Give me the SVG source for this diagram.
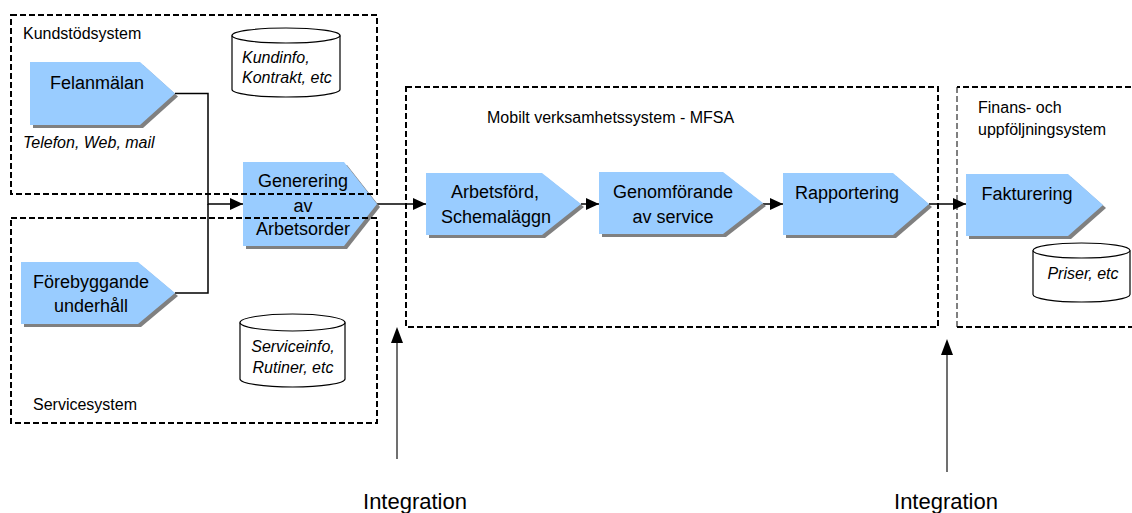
<svg xmlns="http://www.w3.org/2000/svg" width="1132" height="513" viewBox="0 0 1132 513">
<defs>
<style>
.node{fill:#99ccff}
.shadow{fill:#808080}
.box{fill:none;stroke:#000;stroke-width:2;stroke-dasharray:6 3}
.thin{fill:none;stroke:#000;stroke-width:1;stroke-dasharray:6 3}
.conn{fill:none;stroke:#000;stroke-width:1.5}
.int{fill:none;stroke:#707070;stroke-width:2}
.db{fill:#fff;stroke:#000;stroke-width:1.2}
text{font-family:"Liberation Sans",Arial,sans-serif;fill:#000}
.nt{font-size:18px;text-anchor:middle}
.lb{font-size:16px}
.it{font-size:16px;font-style:italic}
.ig{font-size:22px;text-anchor:middle}
</style>
<marker id="arr" markerUnits="userSpaceOnUse" markerWidth="13" markerHeight="12" refX="13" refY="6" orient="auto">
<path d="M0,0 L13,6 L0,12 Z" fill="#000"/>
</marker>
</defs>
<rect width="1132" height="513" fill="#fff"/>

<g id="db-kundinfo">
<path class="db" d="M232,35.5 V89.5 A54,7.5 0 0 0 340,89.5 V35.5"/>
<ellipse class="db" cx="286" cy="35.5" rx="54" ry="7.5"/>
<text class="it" x="242" y="63">Kundinfo,</text>
<text class="it" x="242" y="83">Kontrakt, etc</text>
</g>
<g id="db-serviceinfo">
<path class="db" d="M240,322.5 V379 A52.5,8 0 0 0 345,379 V322.5"/>
<ellipse class="db" cx="292.5" cy="322.5" rx="52.5" ry="8.5"/>
<text class="it" x="293" y="352" text-anchor="middle">Serviceinfo,</text>
<text class="it" x="293" y="373" text-anchor="middle">Rutiner, etc</text>
</g>
<g id="db-priser">
<path class="db" d="M1033,250.5 V294.5 A48.5,7.5 0 0 0 1130,294.5 V250.5"/>
<ellipse class="db" cx="1081.5" cy="250.5" rx="48.5" ry="7.5"/>
<text class="it" x="1083" y="279" text-anchor="middle">Priser, etc</text>
</g>

<g id="connectors">
<path class="conn" d="M175,93.5 H208 V204 H243" marker-end="url(#arr)"/>
<path class="conn" d="M175,293 H208 V204"/>
<path class="conn" d="M377,204 H426" marker-end="url(#arr)"/>
<path class="conn" d="M581,204 H599" marker-end="url(#arr)"/>
<path class="conn" d="M763,204 H783" marker-end="url(#arr)"/>
<path class="conn" d="M929,204 H966" marker-end="url(#arr)"/>
<path class="int" d="M397,459 V342"/>
<path d="M397,327 L403,343 L391,343 Z" fill="#000"/>
<path class="int" d="M947,472 V354"/>
<path d="M947,339 L953,355 L941,355 Z" fill="#000"/>
</g>

<g id="felanmalan">
<path class="shadow" d="M33,65 H143 L178,96.5 L143,128 H33 Z"/>
<path class="node" d="M30,62 H140 L175,93.5 L140,125 H30 Z"/>
<text class="nt" x="97" y="89">Felanmälan</text>
</g>
<g id="forebyggande">
<path class="shadow" d="M24,265 H141 L178,296 L141,327 H24 Z"/>
<path class="node" d="M21,262 H138 L175,293 L138,324 H21 Z"/>
<text class="nt" x="91" y="288">Förebyggande</text>
<text class="nt" x="91" y="312">underhåll</text>
</g>
<g id="generering">
<path class="shadow" d="M246,165 H347 L380,207 L347,249 H246 Z"/>
<path class="node" d="M243,162 H344 L377,204 L344,246 H243 Z"/>
<text class="nt" x="303" y="187">Generering</text>
<text class="nt" x="303" y="212">av</text>
<text class="nt" x="303" y="235">Arbetsorder</text>
</g>
<g id="arbetsford">
<path class="shadow" d="M429,176 H545 L584,207 L545,238 H429 Z"/>
<path class="node" d="M426,173 H542 L581,204 L542,235 H426 Z"/>
<text class="nt" x="495" y="198">Arbetsförd,</text>
<text class="nt" x="496" y="223">Schemaläggn</text>
</g>
<g id="genomforande">
<path class="shadow" d="M602,175 H726 L766,206 L726,237 H602 Z"/>
<path class="node" d="M599,172 H723 L763,203 L723,234 H599 Z"/>
<text class="nt" x="673" y="198">Genomförande</text>
<text class="nt" x="673" y="223">av service</text>
</g>
<g id="rapportering">
<path class="shadow" d="M786,176 H896 L932,207 L896,238 H786 Z"/>
<path class="node" d="M783,173 H893 L929,204 L893,235 H783 Z"/>
<text class="nt" x="847" y="199">Rapportering</text>
</g>
<g id="fakturering">
<path class="shadow" d="M969,177 H1071 L1106,208 L1071,239 H969 Z"/>
<path class="node" d="M966,174 H1068 L1103,205 L1068,236 H966 Z"/>
<text class="nt" x="1027" y="200">Fakturering</text>
</g>

<g id="kundstodsystem">
<rect class="box" x="11" y="15" width="366" height="179"/>
<text class="lb" x="23" y="39">Kundstödsystem</text>
<text class="it" x="23" y="148">Telefon, Web, mail</text>
</g>
<g id="servicesystem">
<rect class="box" x="11" y="218" width="366" height="205"/>
<text class="lb" x="33" y="410">Servicesystem</text>
</g>
<g id="mfsa">
<rect class="box" x="406" y="87" width="532" height="240"/>
<text class="lb" x="487" y="123">Mobilt verksamhetssystem - MFSA</text>
</g>
<g id="finans">
<path class="box" d="M1140,87 H957 M957,327 H1140"/>
<path class="thin" d="M957,87 V327"/>
<text class="lb" x="978" y="113">Finans- och</text>
<text class="lb" x="978" y="135">uppföljningsystem</text>
</g>

<g id="integration-labels">
<text class="ig" x="415" y="509">Integration</text>
<text class="ig" x="946" y="509">Integration</text>
</g>
</svg>
